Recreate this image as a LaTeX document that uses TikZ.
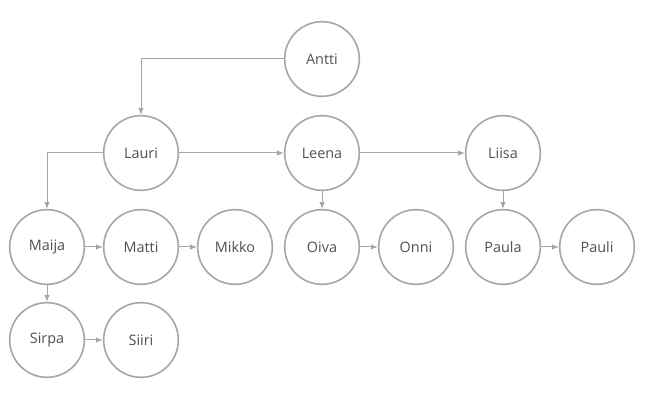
\documentclass[tikz,border=0pt]{standalone}
\usepackage{fontspec}
\setmainfont{Open Sans}
\usetikzlibrary{arrows.meta}
\definecolor{ringgray}{HTML}{A6A6A6}
\definecolor{namegray}{HTML}{505050}
\tikzset{
	person/.style={circle, draw=ringgray, line width=1.2pt, fill=white,
		minimum size=56pt, inner sep=0pt, text=namegray, font=\fontsize{10.8}{13}\selectfont},
	link/.style={draw=ringgray, line width=0.75pt, -{Latex[length=5pt,width=4pt]}}
}
\newcommand{\person}[4]{   % name, x, y, text
	\node[person] (#1) at (#2, #3) {#4};
}

\begin{document}
\begin{tikzpicture}[x=0.75pt, y=-0.75pt]
\useasboundingbox (0, 0) rectangle (646, 402);

\person{antti}{322}{59}{Antti};

\person{lauri}{141}{153}{Lauri};
\person{leena}{322}{153}{Leena};
\person{liisa}{503}{153}{Liisa};

\person{maija}{47}{247}{Maija};
\person{matti}{141}{247}{Matti};
\person{mikko}{235}{247}{Mikko};
\person{oiva}{322}{247}{Oiva};
\person{onni}{416}{247}{Onni};
\person{paula}{503}{247}{Paula};
\person{pauli}{597}{247}{Pauli};

\person{sirpa}{47}{340}{Sirpa};
\person{siiri}{141}{340}{Siiri};

\draw[link] (antti.west) -| (lauri.north);
\draw[link] (lauri.west) -| (maija.north);
\draw[link] (lauri) -- (leena);
\draw[link] (leena) -- (liisa);
\draw[link] (leena) -- (oiva);
\draw[link] (liisa) -- (paula);
\draw[link] (maija) -- (matti);
\draw[link] (matti) -- (mikko);
\draw[link] (oiva) -- (onni);
\draw[link] (paula) -- (pauli);
\draw[link] (maija) -- (sirpa);
\draw[link] (sirpa) -- (siiri);
\end{tikzpicture}
\end{document}
